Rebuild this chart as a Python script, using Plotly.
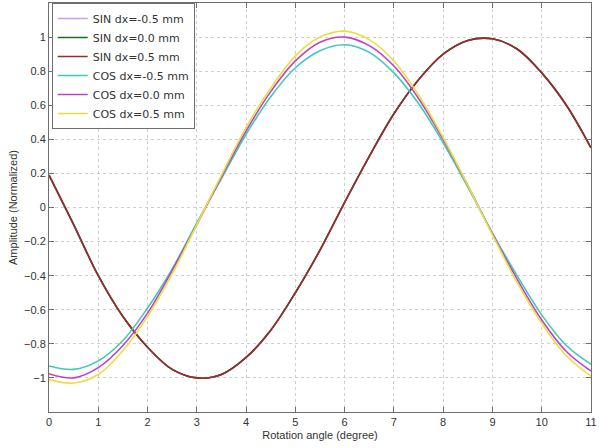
import plotly.graph_objects as go

angle = [0, 0.5, 1, 1.5, 2, 2.5, 3, 3.5, 4, 4.5, 5, 5.5, 6, 6.5, 7, 7.5, 8, 8.5, 9, 9.5, 10, 10.5, 11]

sin_m05 = [0.19, -0.10, -0.40, -0.64, -0.82, -0.95, -1.00, -0.98, -0.88, -0.72, -0.50, -0.25, 0.03, 0.30, 0.55, 0.75, 0.90, 0.98, 0.99, 0.93, 0.79, 0.60, 0.35]
sin_00 = [0.19, -0.10, -0.40, -0.64, -0.82, -0.95, -1.00, -0.98, -0.88, -0.72, -0.50, -0.25, 0.03, 0.30, 0.55, 0.75, 0.90, 0.98, 0.99, 0.93, 0.79, 0.60, 0.35]
sin_p05 = [0.19, -0.10, -0.40, -0.64, -0.82, -0.95, -1.00, -0.98, -0.88, -0.72, -0.50, -0.25, 0.03, 0.30, 0.55, 0.75, 0.90, 0.98, 0.99, 0.93, 0.79, 0.60, 0.35]
cos_m05 = [-0.93, -0.95, -0.90, -0.78, -0.59, -0.36, -0.09, 0.17, 0.43, 0.65, 0.82, 0.92, 0.955, 0.91, 0.79, 0.61, 0.38, 0.12, -0.15, -0.40, -0.63, -0.81, -0.92]
cos_00 = [-0.975, -1.00, -0.94, -0.81, -0.62, -0.37, -0.10, 0.18, 0.45, 0.68, 0.86, 0.97, 1.00, 0.95, 0.83, 0.64, 0.40, 0.13, -0.155, -0.42, -0.66, -0.845, -0.96]
cos_p05 = [-1.01, -1.03, -0.98, -0.84, -0.64, -0.39, -0.10, 0.19, 0.47, 0.70, 0.89, 1.00, 1.035, 0.985, 0.86, 0.66, 0.41, 0.13, -0.16, -0.44, -0.68, -0.87, -0.99]

names = ["SIN dx=-0.5 mm", "SIN dx=0.0 mm", "SIN dx=0.5 mm",
         "COS dx=-0.5 mm", "COS dx=0.0 mm", "COS dx=0.5 mm"]
colors = ["#c9a0e8", "#1f6b1f", "#9b2a2a", "#3fc9b8", "#c040c8", "#e8e040"]
series = [sin_m05, sin_00, sin_p05, cos_m05, cos_00, cos_p05]

x_ticks = list(range(0, 12))
y_ticks = [-1, -0.8, -0.6, -0.4, -0.2, 0, 0.2, 0.4, 0.6, 0.8, 1]

fig = go.Figure()
for nm, col, ys in zip(names, colors, series):
    fig.add_trace(go.Scatter(x=angle, y=ys, mode="lines", name=nm,
                             line=dict(color=col, width=1.6, shape="spline")))

axis_common = dict(showline=True, linecolor="#6e6e6e", linewidth=1, mirror="ticks",
                   ticks="inside", ticklen=5, tickcolor="#6e6e6e",
                   showgrid=True, gridcolor="#cfcfcf", griddash="dot", gridwidth=1,
                   zeroline=False, tickfont=dict(size=11, color="#333333"))

fig.update_layout(
    width=599, height=448,
    margin=dict(l=49, r=8, t=3, b=36),
    paper_bgcolor="white", plot_bgcolor="white",
    font=dict(family="Liberation Sans, Arial, sans-serif", size=11, color="#333333"),
    xaxis=dict(range=[0, 11], tickvals=x_ticks,
               title=dict(text="Rotation angle (degree)", standoff=4, font=dict(size=11)),
               **axis_common),
    yaxis=dict(range=[-1.2, 1.2], tickvals=y_ticks,
               title=dict(text="Amplitude (Normalized)", standoff=4, font=dict(size=11)),
               **axis_common),
    legend=dict(x=0.005, y=1.0, xanchor="left", yanchor="top",
                bgcolor="white", bordercolor="#6e6e6e", borderwidth=1,
                font=dict(family="DejaVu Sans, sans-serif", size=11, color="#333333"),
                itemwidth=30, tracegroupgap=0),
    showlegend=True,
)

fig.write_html("out.html")
